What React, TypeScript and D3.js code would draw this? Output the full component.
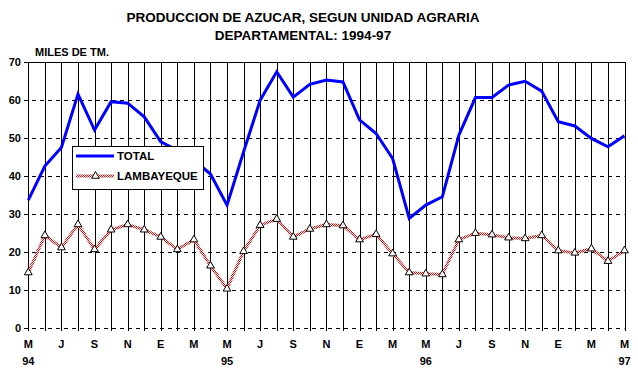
import React from "react";
import * as d3 from "d3";

const months = ["M","J","J","A","S","O","N","D","E","F","M","A","M","J","J","A","S","O","N","D","E","F","M","A","M","J","J","A","S","O","N","D","E","F","M","A","M"];
const yearLabels = [{ i: 0, t: "94" }, { i: 12, t: "95" }, { i: 24, t: "96" }, { i: 36, t: "97" }];
const total = [33.6,42.6,47.5,61.6,52.1,59.6,59.2,55.6,49.0,46.8,44.2,40.5,32.3,46.4,60.0,67.5,60.8,64.2,65.3,64.8,54.8,51.2,44.6,28.8,32.3,34.5,50.8,60.7,60.7,64.0,65.0,62.4,54.3,53.2,49.9,47.7,50.6];
const lambayeque = [14.5,24.3,21.1,27.2,20.6,25.8,27.2,25.8,23.9,20.6,23.2,16.3,10.2,20.1,27.0,28.6,23.9,26.0,27.2,26.9,23.2,24.6,19.5,14.5,14.2,14.0,23.2,24.9,24.5,23.7,23.5,24.3,20.3,19.7,20.8,17.5,20.3];
const yTicks = [0,10,20,30,40,50,60,70];

const W = 638, H = 376;
const FONT = "'Liberation Sans', Arial, sans-serif";

export default function App() {
  const x = d3.scaleLinear().domain([0, 36]).range([28.3, 624.5]);
  const y = d3.scaleLinear().domain([0, 70]).range([327.5, 62.3]);
  const line = d3.line<number>().x((_, i) => x(i)).y(d => y(d));
  const tri = d3.symbol().type(d3.symbolTriangle).size(26)();

  return (
    <svg width={W} height={H} style={{ position: "absolute", left: 0, top: 0, background: "#fff" }} fontFamily={FONT}>
      <defs>
        <pattern id="chk" patternUnits="userSpaceOnUse" width="2" height="2">
          <rect width="2" height="2" fill="#fff" />
          <rect x="0" y="0" width="1" height="1" fill="#ff0000" />
          <rect x="1" y="1" width="1" height="1" fill="#ff0000" />
        </pattern>
      </defs>
      <rect width={W} height={H} fill="#fff" />
      <text x={303} y={22} textAnchor="middle" fontWeight="bold" fontSize={13.5}>PRODUCCION DE AZUCAR, SEGUN UNIDAD AGRARIA</text>
      <text x={303} y={40} textAnchor="middle" fontWeight="bold" fontSize={13.5}>DEPARTAMENTAL: 1994-97</text>
      <text x={35} y={56} fontWeight="bold" fontSize={11}>MILES DE TM.</text>

      {/* horizontal dashed grid */}
      {yTicks.filter(t => t < 70).map(t => (
        <line key={"h" + t} x1={24} x2={x(36)} y1={Math.round(y(t)) + 0.5} y2={Math.round(y(t)) + 0.5} stroke="#000" strokeDasharray="4,4" />
      ))}
      {/* y ticks and labels */}
      {yTicks.map(t => (
        <g key={"yt" + t}>
          <line x1={24} x2={28} y1={Math.round(y(t)) + 0.5} y2={Math.round(y(t)) + 0.5} stroke="#000" />
          <text x={21} y={y(t) + 4} textAnchor="end" fontWeight="bold" fontSize={11}>{t}</text>
        </g>
      ))}
      {/* vertical grid */}
      {months.map((_, i) => (
        <line key={"v" + i} x1={Math.round(x(i)) + 0.5} x2={Math.round(x(i)) + 0.5} y1={62} y2={331} stroke="#000" />
      ))}
      {/* top border */}
      <line x1={28} x2={x(36) + 1} y1={62.5} y2={62.5} stroke="#000" />

      {/* x labels */}
      {months.map((m, i) => i % 2 === 0 ? (
        <text key={"xl" + i} x={x(i)} y={348} textAnchor="middle" fontWeight="bold" fontSize={11}>{m}</text>
      ) : null)}
      {yearLabels.map(d => (
        <text key={"yl" + d.i} x={x(d.i)} y={365} textAnchor="middle" fontWeight="bold" fontSize={11}>{d.t}</text>
      ))}

      {/* series */}
      <path d={line(lambayeque) || ""} fill="none" stroke="url(#chk)" strokeWidth={3} />
      {lambayeque.map((v, i) => (
        <path key={"t" + i} d={tri} transform={`translate(${x(i)},${y(v)})`} fill="#fff" stroke="#000" strokeWidth={1} />
      ))}
      <path d={line(total) || ""} fill="none" stroke="#0000ff" strokeWidth={3} />

      {/* legend */}
      <rect x={72.5} y={146.5} width={131} height={43} fill="#fff" stroke="#000" />
      <line x1={76} x2={114} y1={156} y2={156} stroke="#0000ff" strokeWidth={3} />
      <text x={117} y={160} fontWeight="bold" fontSize={11.5}>TOTAL</text>
      <line x1={76} x2={114} y1={176} y2={176} stroke="url(#chk)" strokeWidth={3} />
      <path d={tri} transform="translate(95.5,176)" fill="#fff" stroke="#000" />
      <text x={117} y={180} fontWeight="bold" fontSize={11.5}>LAMBAYEQUE</text>
    </svg>
  );
}
